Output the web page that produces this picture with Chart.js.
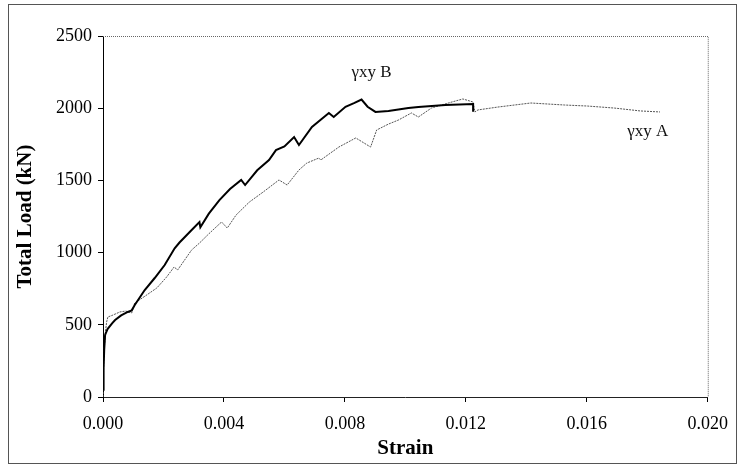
<!DOCTYPE html>
<html>
<head>
<meta charset="utf-8">
<script src="https://cdn.jsdelivr.net/npm/chart.js@4"></script>
<style>
    html, body { margin: 0; padding: 0; background: #fff; }
    canvas { display: block; }
</style>
</head>
<body>
<canvas id="loadChart" width="739" height="467"></canvas>
<script>
// Strain / total load readings (gamma xy B, thick curve)
const strainB = [0.00000, 0.00002, 0.00004, 0.00007, 0.00015, 0.00030, 0.00040, 0.00060, 0.00082, 0.00095,
    0.00105, 0.00138, 0.00171, 0.00204, 0.00237, 0.00253, 0.00290, 0.00319, 0.00322, 0.00350,
    0.00385, 0.00420, 0.00457, 0.00470, 0.00510, 0.00549, 0.00572, 0.00600, 0.00632, 0.00648,
    0.00691, 0.00747, 0.00763, 0.00802, 0.00830, 0.00855, 0.00875, 0.00901, 0.00944, 0.01010,
    0.01043, 0.01132, 0.01224, 0.01224];
const loadB = [50, 200, 330, 430, 470, 510, 533, 565, 589, 600,
    637, 741, 824, 914, 1030, 1070, 1150, 1212, 1175, 1270,
    1364, 1440, 1503, 1468, 1570, 1641, 1710, 1735, 1800, 1745,
    1870, 1967, 1939, 2010, 2035, 2060, 2010, 1974, 1981, 2001,
    2008, 2022, 2029, 1975];

// gamma xy A, thin grey curve
const strainA = [0.00000, 0.00003, 0.00008, 0.00012, 0.00016, 0.00030, 0.00056, 0.00075, 0.00095, 0.00105,
    0.00140, 0.00178, 0.00210, 0.00235, 0.00247, 0.00293, 0.00319, 0.00350, 0.00392, 0.00411,
    0.00440, 0.00484, 0.00530, 0.00582, 0.00609, 0.00648, 0.00674, 0.00714, 0.00720, 0.00780,
    0.00836, 0.00885, 0.00905, 0.00944, 0.00977, 0.01020, 0.01043, 0.01086, 0.01142, 0.01190,
    0.01224, 0.01230, 0.01240, 0.01306, 0.01415, 0.01527, 0.01602, 0.01691, 0.01777, 0.01842];
const loadA = [0, 300, 450, 520, 554, 565, 589, 595, 582, 651,
    700, 755, 830, 900, 880, 1018, 1066, 1130, 1212, 1170,
    1260, 1350, 1420, 1503, 1468, 1572, 1620, 1655, 1641, 1731,
    1794, 1731, 1849, 1890, 1918, 1967, 1939, 2001, 2036, 2064,
    2043, 1974, 1988, 2008, 2036, 2022, 2015, 2001, 1981, 1974];

// Axis ticks
const strainTicks = [0, 0.004, 0.008, 0.012, 0.016, 0.020];
const loadTicks = [0, 500, 1000, 1500, 2000, 2500];

// Curve labels (text, strain, load)
const curveLabels = [
    { text: 'γxy B', x: 0.00822, y: 2244 },
    { text: 'γxy A', x: 0.01734, y: 1835 }
];

function toPoints(xs, ys) {
    return xs.map((x, i) => ({ x: x, y: ys[i] }));
}

const serif = '"Liberation Serif", "Times New Roman", serif';

// Frame, dotted top/right border and curve labels
const decorPlugin = {
    id: 'decor',
    afterDraw(chart) {
        const ctx = chart.ctx;
        const area = chart.chartArea;
        const xs = chart.scales.x;
        const ys = chart.scales.y;
        ctx.save();
        ctx.strokeStyle = '#555';
        ctx.lineWidth = 1;
        ctx.strokeRect(8.5, 4.5, 728, 459);

        ctx.strokeStyle = '#666';
        ctx.setLineDash([1, 1]);
        ctx.beginPath();
        ctx.moveTo(area.left, area.top + 0.5);
        ctx.lineTo(area.right + 0.5, area.top + 0.5);
        ctx.lineTo(area.right + 0.5, area.bottom);
        ctx.stroke();
        ctx.setLineDash([]);

        ctx.fillStyle = '#111';
        ctx.font = '17px ' + serif;
        ctx.textBaseline = 'middle';
        ctx.textAlign = 'left';
        curveLabels.forEach(l => {
            ctx.fillText(l.text, xs.getPixelForValue(l.x), ys.getPixelForValue(l.y));
        });
        ctx.restore();
    }
};

const ctx = document.getElementById('loadChart').getContext('2d');
const loadChart = new Chart(ctx, {
    type: 'scatter',
    data: {
        datasets: [
            {
                label: 'γxy B',
                data: toPoints(strainB, loadB),
                showLine: true,
                borderColor: '#000',
                borderWidth: 2,
                pointRadius: 0,
                tension: 0
            },
            {
                label: 'γxy A',
                data: toPoints(strainA, loadA),
                showLine: true,
                borderColor: '#555',
                borderWidth: 1,
                borderDash: [2, 1],
                pointRadius: 0,
                tension: 0
            }
        ]
    },
    options: {
        responsive: false,
        animation: false,
        devicePixelRatio: 1,
        layout: { padding: { top: 36, right: 28, left: 0, bottom: 0 } },
        plugins: {
            legend: { display: false },
            tooltip: { enabled: false }
        },
        scales: {
            x: {
                type: 'linear',
                min: 0,
                max: 0.02,
                afterFit: scale => { scale.height = 70; },
                afterBuildTicks: scale => { scale.ticks = strainTicks.map(v => ({ value: v })); },
                ticks: {
                    color: '#000',
                    padding: 11,
                    font: { family: serif, size: 18 },
                    callback: v => v.toFixed(3)
                },
                grid: { display: true, drawOnChartArea: false, drawTicks: true, tickLength: 5, color: '#000' },
                border: { display: true, color: '#222', width: 1, dash: [2, 1] },
                title: {
                    display: true,
                    text: 'Strain',
                    color: '#000',
                    font: { family: serif, size: 21, weight: 'bold' },
                    padding: { top: 0, bottom: 6 }
                }
            },
            y: {
                type: 'linear',
                min: 0,
                max: 2500,
                afterFit: scale => { scale.width = 103; },
                afterBuildTicks: scale => { scale.ticks = loadTicks.map(v => ({ value: v })); },
                ticks: {
                    color: '#000',
                    padding: 6,
                    font: { family: serif, size: 18 },
                    callback: v => String(v)
                },
                grid: { display: true, drawOnChartArea: false, drawTicks: true, tickLength: 5, color: '#000' },
                border: { display: true, color: '#000', width: 1 },
                title: {
                    display: true,
                    text: 'Total Load (kN)',
                    color: '#000',
                    font: { family: serif, size: 21, weight: 'bold' },
                    padding: { top: 13, bottom: 0 }
                }
            }
        }
    },
    plugins: [decorPlugin]
});
</script>
</body>
</html>
